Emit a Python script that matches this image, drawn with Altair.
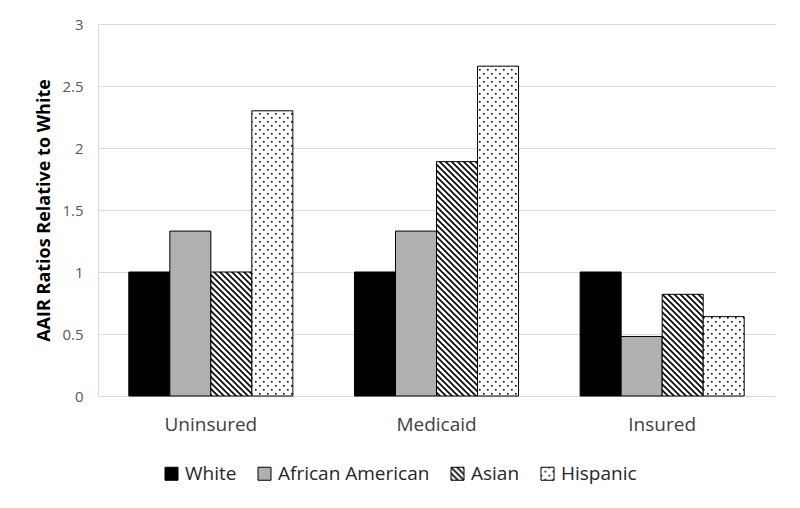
import altair as alt
import pandas as pd
import jinja2

categories = ["Uninsured", "Medicaid", "Insured"]
groups = ["White", "African American", "Asian", "Hispanic"]
white = [1.0, 1.0, 1.0]
african_american = [1.33, 1.33, 0.48]
asian = [1.0, 1.89, 0.82]
hispanic = [2.30, 2.66, 0.64]
y_ticks = [0, 0.5, 1, 1.5, 2, 2.5, 3]
fills = ["#000000", "#b0b0b0", "url(#diag)", "url(#dots)"]

rows = []
for g, vals in zip(groups, [white, african_american, asian, hispanic]):
    for c, v in zip(categories, vals):
        rows.append({"category": c, "group": g, "value": v})
df = pd.DataFrame(rows)

FONT = "Open Sans"

chart = alt.Chart(df).mark_bar(stroke="black", strokeWidth=1).encode(
    x=alt.X(
        "category:N", sort=categories,
        scale=alt.Scale(paddingInner=0.273, paddingOuter=0.1365),
        axis=alt.Axis(title=None, labelAngle=0, domain=False, ticks=False,
                      labelFontSize=19, labelColor="#404040", labelPadding=19,
                      labelFont=FONT),
    ),
    xOffset=alt.XOffset("group:N", sort=groups,
                        scale=alt.Scale(paddingInner=0, paddingOuter=0)),
    y=alt.Y(
        "value:Q", scale=alt.Scale(domain=[0, 3], nice=False),
        axis=alt.Axis(title="AAIR Ratios Relative to White", values=y_ticks,
                      format="~g", ticks=False, domain=True,
                      domainColor="#d9d9d9", gridColor="#d9d9d9",
                      labelFontSize=15, labelColor="#595959", labelFont=FONT,
                      labelPadding=15, titleFont=FONT, titleFontSize=18,
                      titleFontWeight="bold", titleColor="#000000",
                      titleX=-54, titleY=186, titleBaseline="middle",
                      titleAngle=270, titleAnchor="middle"),
    ),
    fill=alt.Fill(
        "group:N", sort=groups,
        scale=alt.Scale(domain=groups, range=fills),
        legend=alt.Legend(title=None, orient="none", legendX=64, legendY=440,
                          direction="horizontal", symbolType="square",
                          symbolSize=169, symbolStrokeColor="black",
                          symbolStrokeWidth=1, labelFontSize=19,
                          labelFont=FONT, labelColor="#262626",
                          columnPadding=18, labelOffset=4, padding=0),
    ),
).properties(
    width=677, height=372,
    autosize=alt.AutoSizeParams(type="none"),
    padding={"left": 90, "top": 16, "right": 17, "bottom": 104},
).configure_view(strokeWidth=0)

TEMPLATE = jinja2.Template("""<!DOCTYPE html>
<html>
<head>
  <style>
    #{{ output_div }}.vega-embed { width: 100%; display: flex; }
  </style>
  <script type="text/javascript" src="{{ base_url }}/vega@{{ vega_version }}"></script>
  <script type="text/javascript" src="{{ base_url }}/vega-lite@{{ vegalite_version }}"></script>
  <script type="text/javascript" src="{{ base_url }}/vega-embed@{{ vegaembed_version }}"></script>
</head>
<body>
  <svg width="0" height="0" style="position:absolute">
    <defs>
      <pattern id="diag" patternUnits="userSpaceOnUse" width="6" height="6">
        <rect width="6" height="6" fill="#ffffff"/>
        <path d="M-1,-1 L7,7 M-1,5 L1,7 M5,-1 L7,1" stroke="#000000" stroke-width="1.6"/>
      </pattern>
      <pattern id="dots" patternUnits="userSpaceOnUse" width="8" height="8">
        <rect width="8" height="8" fill="#ffffff"/>
        <rect x="1" y="1" width="1.6" height="1.6" fill="#000000"/>
        <rect x="5" y="5" width="1.6" height="1.6" fill="#000000"/>
      </pattern>
    </defs>
  </svg>
  <div id="{{ output_div }}"></div>
  <script type="text/javascript">
    var spec = {{ spec }};
    var embedOpt = {{ embed_options }};
    vegaEmbed("#{{ output_div }}", spec, embedOpt).catch(console.error);
  </script>
</body>
</html>
""")

chart.save("out.html", embed_options={"renderer": "svg", "actions": False},
           template=TEMPLATE)
